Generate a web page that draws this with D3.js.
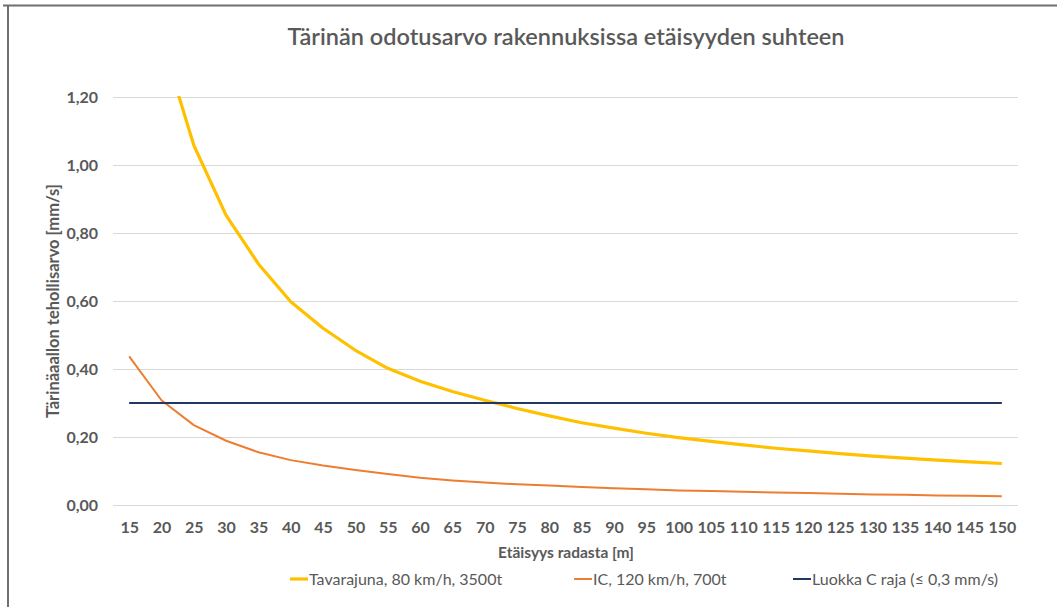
<!DOCTYPE html>
<html>
<head>
<meta charset="utf-8">
<script src="https://cdn.jsdelivr.net/npm/d3@7"></script>
<style>
  body { margin: 0; background: #fff; }
  svg text { font-family: Lato, "Open Sans", sans-serif; fill: #595959; }
</style>
</head>
<body>
<div id="chart"></div>
<script>
// distances (m)
var distances = [15, 20, 25, 30, 35, 40, 45, 50, 55, 60, 65, 70, 75, 80, 85, 90, 95, 100,
  105, 110, 115, 120, 125, 130, 135, 140, 145, 150];

var freight = [1.90, 1.37, 1.058, 0.852, 0.709, 0.598, 0.52, 0.455, 0.402, 0.364, 0.334, 0.308,
  0.284, 0.262, 0.242, 0.226, 0.211, 0.198, 0.187, 0.177, 0.167, 0.159, 0.151, 0.144,
  0.138, 0.132, 0.127, 0.122];

var ic = [0.437, 0.308, 0.235, 0.189, 0.155, 0.132, 0.116, 0.103, 0.091, 0.080, 0.072, 0.066,
  0.061, 0.057, 0.053, 0.049, 0.046, 0.043, 0.041, 0.039, 0.037, 0.035, 0.033, 0.031,
  0.030, 0.028, 0.027, 0.026];

var limitC = distances.map(function(){ return 0.3; });

var yTicks = [0, 0.2, 0.4, 0.6, 0.8, 1.0, 1.2];

var seriesNames = ["Tavarajuna, 80 km/h, 3500t", "IC, 120 km/h, 700t", "Luokka C raja (≤ 0,3 mm/s)"];
var seriesColors = ["#FFC000", "#ED7D31", "#1F3864"];
var seriesWidths = [3.2, 2, 2];

var W = 1057, H = 607;
var margin = {left: 113, right: 39, top: 97, bottom: 102};

var svg = d3.select("#chart").append("svg")
  .attr("width", W).attr("height", H);

// frame
svg.append("line").attr("x1", 3).attr("x2", W).attr("y1", 5.5).attr("y2", 5.5)
  .attr("stroke", "#6f6f6f").attr("stroke-width", 2);
svg.append("line").attr("x1", 8).attr("x2", 8).attr("y1", 5).attr("y2", H)
  .attr("stroke", "#6f6f6f").attr("stroke-width", 2);

var x = d3.scalePoint().domain(distances)
  .range([margin.left, W - margin.right]).padding(0.5);
var y = d3.scaleLinear().domain([0, 1.2]).range([H - margin.bottom, margin.top]);

svg.append("defs").append("clipPath").attr("id", "plotclip")
  .append("rect").attr("x", margin.left).attr("y", margin.top - 1)
  .attr("width", W - margin.left - margin.right).attr("height", H - margin.top - margin.bottom + 2);

// grid + y axis
var fmt = function(d){ return d3.format(".2f")(d).replace(".", ","); };
var yAxis = d3.axisLeft(y).tickValues(yTicks).tickFormat(fmt)
  .tickSize(-(W - margin.left - margin.right)).tickPadding(15);
var gy = svg.append("g").attr("transform", "translate(" + margin.left + ",0)").call(yAxis);
gy.select(".domain").remove();
gy.selectAll(".tick line").attr("stroke", "#d9d9d9").attr("stroke-width", 1);
gy.selectAll(".tick text").attr("font-size", 16).attr("font-weight", "bold")
  .style("fill", "#595959");

var xAxis = d3.axisBottom(x).tickSize(0).tickPadding(17);
var gx = svg.append("g").attr("transform", "translate(0," + (H - margin.bottom) + ")").call(xAxis);
gx.select(".domain").remove();
gx.selectAll(".tick text").attr("font-size", 16).attr("font-weight", "bold")
  .style("fill", "#595959");

// lines
var allSeries = [freight, ic, limitC];
var line = d3.line()
  .x(function(d, i){ return x(distances[i]); })
  .y(function(d){ return y(d); });

var plot = svg.append("g").attr("clip-path", "url(#plotclip)");
plot.selectAll("path.series").data(allSeries).enter()
  .append("path").attr("class", "series")
  .attr("d", line)
  .attr("fill", "none")
  .attr("stroke", function(d, i){ return seriesColors[i]; })
  .attr("stroke-width", function(d, i){ return seriesWidths[i]; })
  .attr("stroke-linejoin", "round");

// titles
svg.append("text").attr("x", 566).attr("y", 45).attr("text-anchor", "middle")
  .attr("font-size", 23.5).attr("font-weight", 600).text("Tärinän odotusarvo rakennuksissa etäisyyden suhteen");

svg.append("text").attr("transform", "translate(59," + ((margin.top + H - margin.bottom) / 2) + ") rotate(-90)")
  .attr("text-anchor", "middle").attr("font-size", 16.5).attr("font-weight", "bold")
  .text("Tärinäaallon tehollisarvo [mm/s]");

svg.append("text").attr("x", 566).attr("y", 558).attr("text-anchor", "middle")
  .attr("font-size", 15.5).attr("font-weight", "bold").text("Etäisyys radasta [m]");

// legend
var legendX = [290, 574, 793];
var lg = svg.selectAll("g.legend").data(seriesNames).enter()
  .append("g").attr("class", "legend")
  .attr("transform", function(d, i){ return "translate(" + legendX[i] + ",579)"; });
lg.append("line").attr("x1", 0).attr("x2", 18).attr("y1", 0).attr("y2", 0)
  .attr("stroke", function(d, i){ return seriesColors[i]; })
  .attr("stroke-width", function(d, i){ return seriesWidths[i]; });
lg.append("text").attr("x", 19).attr("y", 5.5).attr("font-size", 16)
  .text(function(d){ return d; });
</script>
</body>
</html>
